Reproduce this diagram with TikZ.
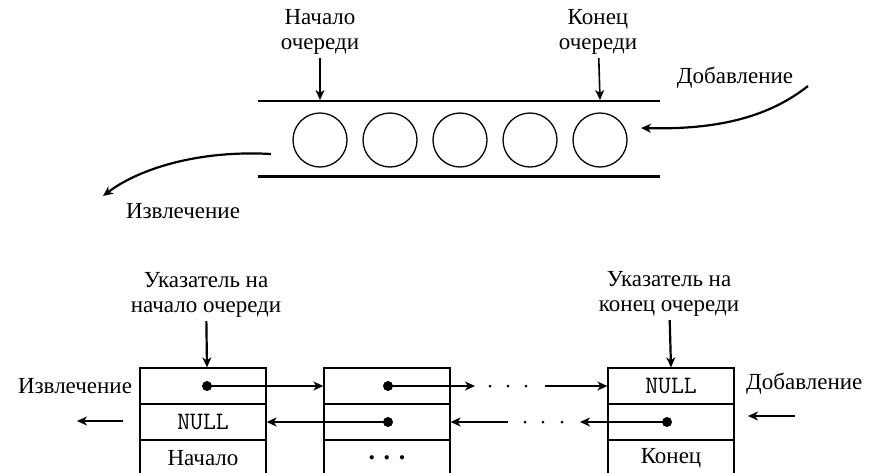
\documentclass[tikz,border=0pt]{standalone}
\usepackage{fontspec}
\setmainfont{Liberation Serif}
\usepackage{tikz}
\usetikzlibrary{arrows.meta}

\begin{document}
\begin{tikzpicture}[x=1pt, y=-1pt, font=\fontsize{23}{25}\selectfont]
  \tikzstyle{ball} = [circle, draw, line width=1.3pt, minimum size=54pt, inner sep=0pt]
  \tikzstyle{cell} = [rectangle, draw, line width=1.3pt, minimum width=126pt, minimum height=36pt, inner sep=0pt]
  \tikzstyle{dot} = [circle, fill=black, inner sep=0pt, minimum size=10pt]
  \tikzstyle{edge} = [-{Stealth[length=10pt, width=9pt, inset=3pt]}, line width=2.2pt]
  \tikzstyle{thinedge} = [-{Stealth[length=10pt, width=9pt, inset=3pt]}, line width=1.6pt]
  \tikzstyle{tube} = [line width=2.2pt]
  \tikzstyle{nullbox} = [font=\fontsize{25}{25}\ttfamily]

  \useasboundingbox (0,0) rectangle (869,472);

  % upper picture: the queue as a tube
  \draw[tube] (258,101) -- (660,101);
  \draw[tube, line width=3pt] (258,176) -- (660,176);
  \foreach \i/\x in {1/320,2/390,3/460,4/530,5/600}
    \node[ball] (b\i) at (\x,140) {};

  \node[align=center] (head) at (320,32) {Начало\\очереди};
  \node[align=center] (tail) at (598,32) {Конец\\очереди};
  \coordinate (headin) at (320,100);
  \coordinate (tailin) at (600,100);
  \draw[edge] (head) -- (headin);
  \draw[thinedge] (tail) -- (tailin);

  \node (add) at (735,78) {Добавление};
  \coordinate (addfrom) at (808,86);
  \coordinate (addto) at (641,128);
  \draw[edge] (addfrom) .. controls (770,116) and (720,130) .. (addto);

  \node (take) at (183,211) {Извлечение};
  \coordinate (takefrom) at (271,154);
  \coordinate (taketo) at (103,196);
  \draw[edge] (takefrom) .. controls (200,150) and (140,168) .. (taketo);

  % lower picture: the queue as a linked list
  \node[cell] (a1) at (203,386) {};
  \node[cell, nullbox] (a2) at (203,422) {NULL};
  \node[cell] (a3) at (203,458) {Начало};
  \node[cell] (m1) at (387,386) {};
  \node[cell] (m2) at (387,422) {};
  \node[cell, font=\fontsize{26}{25}\selectfont\bfseries] (m3) at (387,458) {. . .};
  \node[cell, nullbox] (e1) at (671,386) {NULL};
  \node[cell] (e2) at (671,422) {};
  \node[cell] (e3) at (671,458) {Конец};

  \node[dot] (pa1) at (207,386) {};
  \node[dot] (pm1) at (388,386) {};
  \node[dot] (pm2) at (388,422) {};
  \node[dot] (pe2) at (667,422) {};

  \coordinate (fwd1) at (475,386);
  \coordinate (fwd2) at (545,386);
  \coordinate (back1) at (580,422);
  \coordinate (back2) at (508,422);

  \draw[edge] (pa1.center) -- (m1.west);
  \draw[thinedge] (pm1.center) -- (fwd1);
  \foreach \x in {490,508,526}
    \fill (\x,386) circle (1.5pt);
  \draw[edge] (fwd2) -- (e1.west);

  \draw[edge] (pm2.center) -- (a2.east);
  \draw[thinedge] (pe2.center) -- (back1);
  \foreach \x in {525,543,562}
    \fill (\x,422) circle (1.5pt);
  \draw[thinedge] (back2) -- (m2.east);

  \node[align=center] (hptr) at (206,295) {Указатель на\\начало очереди};
  \node[align=center] (tptr) at (669,294) {Указатель на\\конец очереди};
  \draw[edge] (hptr) -- (a1.north -| pa1);
  \draw[edge] (tptr) -- (e1.north);

  \node (take2) at (75,386) {Извлечение};
  \coordinate (take2from) at (123,421);
  \coordinate (take2to) at (77,421);
  \draw[edge] (take2from) -- (take2to);

  \node[anchor=west, inner sep=0pt] (add2) at (746,384) {Добавление};
  \coordinate (add2from) at (795,416);
  \coordinate (add2to) at (748,416);
  \draw[edge] (add2from) -- (add2to);
\end{tikzpicture}
\end{document}
